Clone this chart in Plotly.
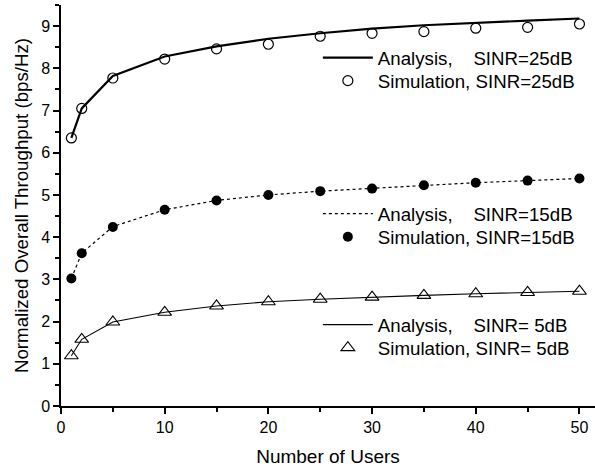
import plotly.graph_objects as go

# Number of users
users = [1, 2, 5, 10, 15, 20, 25, 30, 35, 40, 45, 50]

# Normalized overall throughput (bps/Hz)
analysis_25 = [6.35, 7.05, 7.82, 8.28, 8.52, 8.70, 8.83, 8.94, 9.02, 9.08, 9.13, 9.18]
simulation_25 = [6.35, 7.05, 7.77, 8.22, 8.46, 8.57, 8.76, 8.83, 8.87, 8.95, 8.97, 9.05]
analysis_15 = [3.02, 3.62, 4.25, 4.65, 4.87, 5.00, 5.09, 5.16, 5.23, 5.29, 5.34, 5.39]
simulation_15 = [3.02, 3.62, 4.24, 4.65, 4.87, 5.00, 5.09, 5.15, 5.23, 5.29, 5.34, 5.39]
analysis_5 = [1.19, 1.58, 1.99, 2.22, 2.37, 2.47, 2.53, 2.58, 2.62, 2.66, 2.69, 2.72]
simulation_5 = [1.19, 1.58, 1.99, 2.22, 2.37, 2.47, 2.53, 2.58, 2.62, 2.66, 2.69, 2.72]

x_ticks = [0, 10, 20, 30, 40, 50]
y_ticks = [0, 1, 2, 3, 4, 5, 6, 7, 8, 9]

NB = "\u00a0"
FONT = "Liberation Sans, Arial, sans-serif"

fig = go.Figure()

fig.add_trace(go.Scatter(
    x=users, y=analysis_25, mode="lines",
    line=dict(color="black", width=2.2),
    name="Analysis," + NB * 4 + "SINR=25dB", legend="legend"))
fig.add_trace(go.Scatter(
    x=users, y=simulation_25, mode="markers",
    marker=dict(symbol="circle-open", size=10, color="black", line=dict(width=1.2)),
    name="Simulation, SINR=25dB", legend="legend2"))

fig.add_trace(go.Scatter(
    x=users, y=analysis_15, mode="lines",
    line=dict(color="black", width=1.2, dash="dot"),
    name="Analysis," + NB * 4 + "SINR=15dB", legend="legend3"))
fig.add_trace(go.Scatter(
    x=users, y=simulation_15, mode="markers",
    marker=dict(symbol="circle", size=10, color="black"),
    name="Simulation, SINR=15dB", legend="legend4"))

fig.add_trace(go.Scatter(
    x=users, y=analysis_5, mode="lines",
    line=dict(color="black", width=1.1),
    name="Analysis," + NB * 4 + "SINR=" + NB + "5dB", legend="legend5"))
fig.add_trace(go.Scatter(
    x=users, y=simulation_5, mode="markers",
    marker=dict(symbol="triangle-up-open", size=12, color="black", line=dict(width=1.1)),
    name="Simulation, SINR=" + NB + "5dB", legend="legend6"))

legend_style = dict(
    x=0.481, xanchor="left", yanchor="middle", bgcolor="rgba(0,0,0,0)",
    font=dict(family=FONT, size=18.7, color="black"),
    itemwidth=50,
)

fig.update_layout(
    width=595, height=469,
    margin=dict(l=61, r=0, t=5, b=63),
    paper_bgcolor="white", plot_bgcolor="white",
    font=dict(family=FONT, color="black"),
    showlegend=True,
    legend=dict(y=0.868, **legend_style),
    legend2=dict(y=0.8105, **legend_style),
    legend3=dict(y=0.479, **legend_style),
    legend4=dict(y=0.4214, **legend_style),
    legend5=dict(y=0.202, **legend_style),
    legend6=dict(y=0.1446, **legend_style),
    xaxis=dict(
        range=[0, 51.5], tickvals=x_ticks, ticks="outside", ticklen=6, tickwidth=1.5,
        tickcolor="black", showline=True, linecolor="black", linewidth=1.5,
        showgrid=False, zeroline=False, tickfont=dict(size=16, family=FONT),
        minor=dict(dtick=5, tick0=0, ticks="outside", ticklen=4, tickwidth=1.5, tickcolor="black"),
        title=dict(text="Number of Users", font=dict(size=19, family=FONT), standoff=15),
    ),
    yaxis=dict(
        range=[0, 9.5], tickvals=y_ticks, ticks="outside", ticklen=6, tickwidth=1.5,
        tickcolor="black", showline=True, linecolor="black", linewidth=1.5,
        showgrid=False, zeroline=False, tickfont=dict(size=16, family=FONT),
        minor=dict(dtick=0.5, tick0=0, ticks="outside", ticklen=4, tickwidth=1.5, tickcolor="black"),
        title=dict(text="Normalized Overall Throughput (bps/Hz)", font=dict(size=18.7, family=FONT), standoff=8),
    ),
)

fig.write_html("out.html")
